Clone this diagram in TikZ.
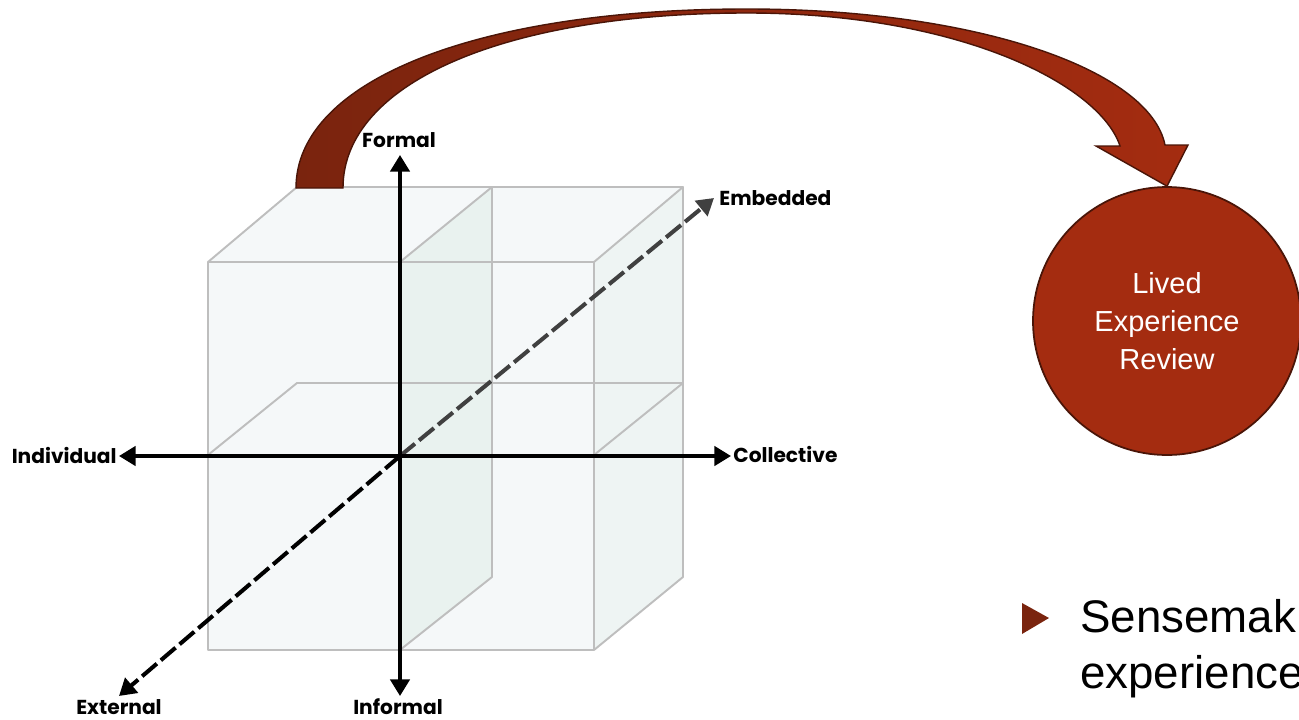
\documentclass[tikz,border=0pt]{standalone}
\usepackage{fontspec}
\usetikzlibrary{arrows.meta}
\newfontfamily\axisfont{Poppins}
\newfontfamily\bodyfont{Liberation Sans}
\definecolor{rust}{RGB}{164,44,16}
\definecolor{rustdark}{RGB}{122,36,14}
\definecolor{rustline}{RGB}{74,21,8}
\definecolor{facefront}{RGB}{245,248,249}
\definecolor{faceside}{RGB}{238,244,243}
\definecolor{facemid}{RGB}{233,242,239}
\definecolor{edge}{RGB}{190,190,190}
\def\face{\fill}
\def\edge{\draw[edge,line width=1.1pt,line join=round]}

\begin{document}
\begin{tikzpicture}[x=0.02cm,y=-0.02cm,
    axis/.style={line width=2.1pt,-{Triangle[length=9.5pt,width=11pt]}},
    dash axis/.style={axis,line width=2.3pt,dash pattern=on 11pt off 3pt},
    lab/.style={font=\axisfont\bfseries\fontsize{11.5}{13}\selectfont,inner sep=0pt}]
\useasboundingbox (0,0) rectangle (1299,720);
% cube
\face[facefront] (208,262) -- (297,187) -- (683,187) -- (594,262) -- cycle;
\face[faceside] (594,262) -- (683,187) -- (683,577) -- (594,650) -- cycle;
\face[facefront] (208,262) rectangle (594,650);
\face[facemid] (400,262) -- (492,187) -- (492,577) -- (400,650) -- cycle;
\edge (208,262) -- (297,187) -- (683,187) -- (594,262);
\edge (683,187) -- (683,577) -- (594,650);
\edge (208,262) rectangle (594,650);
\edge (400,262) -- (492,187) -- (492,577) -- (400,650);
\edge (208,455) -- (297,383) -- (683,383) -- (594,455);
% labels
\node[lab,anchor=base] (formal) at (399,147) {Formal};
\node[lab,anchor=base] (informal) at (398,714) {Informal};
\node[lab,anchor=base east] (individual) at (117,463) {Individual};
\node[lab,anchor=base west] (collective) at (733,462) {Collective};
\node[lab,anchor=base west] (embedded) at (719,205) {Embedded};
\node[lab,anchor=base] (external) at (119,714) {External};
% axes
\coordinate (o) at (400,456);
\coordinate (up) at (400,155);
\coordinate (down) at (400,696);
\coordinate (left) at (119,456);
\coordinate (right) at (731,456);
\coordinate (back) at (714,198);
\coordinate (front) at (119,696);
\draw[dash axis,black!75] (o) -- (back);
\draw[dash axis] (o) -- (front);
\draw[axis] (o) -- (up);
\draw[axis] (o) -- (down);
\draw[axis] (o) -- (left);
\draw[axis] (o) -- (right);
% review
\node[circle,fill=rust,draw=rustline,line width=1pt,minimum size=5.36cm,
      text=white,align=center,font=\bodyfont\fontsize{16.5}{21.8}\selectfont]
      (review) at (1167,321) {Lived\\Experience\\Review};
\draw[left color=rustdark,right color=rust,draw=rustline,line width=0.8pt]
  (296,188) .. controls (296,81) and (476,9) .. (747,9)
  .. controls (977,9) and (1150,70) .. (1165,145)
  -- (1188,145) -- (review.north) -- (1096,146) -- (1120,146)
  .. controls (1100,85) and (960,13) .. (747,13)
  .. controls (505,13) and (343,83) .. (343,188) -- cycle;
% bullet
\begin{scope}
\clip (0,0) rectangle (1299,720);
\fill[rustdark] (1022,603) -- (1022,634) -- (1049,618) -- cycle;
\node[anchor=base west,inner sep=0pt,font=\bodyfont\fontsize{26}{31}\selectfont]
  (sense) at (1080,632) {Sensemak};
\node[anchor=base west,inner sep=0pt,font=\bodyfont\fontsize{26}{31}\selectfont]
  (exper) at (1080,688) {experience};
\end{scope}
\end{tikzpicture}
\end{document}
